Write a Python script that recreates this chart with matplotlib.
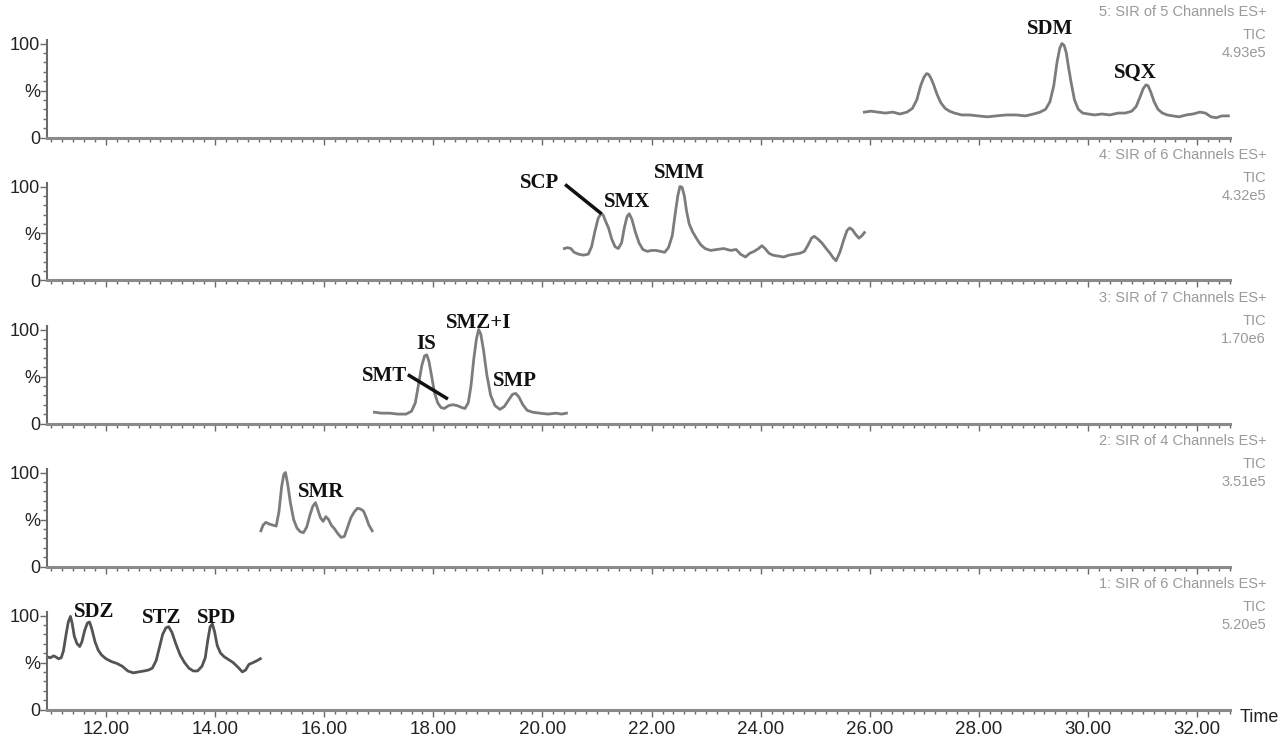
import numpy as np
import matplotlib.pyplot as plt
from matplotlib.ticker import MultipleLocator, FixedLocator, FuncFormatter

# retention time (min) and relative intensity (%) for each SIR channel group
t1 = [10.92, 10.98, 11.04, 11.08, 11.13, 11.18, 11.22, 11.27, 11.31, 11.35, 11.38, 11.42,
      11.47, 11.52, 11.56, 11.61, 11.66, 11.70, 11.74, 11.80, 11.86, 11.92, 12.00, 12.10,
      12.20, 12.30, 12.40, 12.50, 12.60, 12.70, 12.78, 12.85, 12.92, 12.98, 13.04, 13.10,
      13.15, 13.21, 13.28, 13.36, 13.44, 13.52, 13.60, 13.68, 13.76, 13.82, 13.87, 13.91,
      13.95, 13.99, 14.04, 14.10, 14.17, 14.25, 14.33, 14.42, 14.50, 14.56, 14.62, 14.70,
      14.77, 14.83]
i1 = [56, 55, 57, 56, 54, 55, 62, 80, 93, 99, 92, 78,
      70, 67, 72, 84, 92, 93, 86, 72, 63, 58, 54, 51,
      49, 46, 41, 39, 40, 41, 42, 44, 52, 66, 80, 87,
      88, 82, 70, 58, 50, 44, 41, 41, 46, 55, 75, 88,
      91, 83, 68, 60, 56, 53, 50, 45, 40, 42, 48, 50,
      52, 54]

t2 = [14.84, 14.88, 14.93, 15.00, 15.06, 15.12, 15.17, 15.22, 15.26, 15.29, 15.33, 15.38,
      15.44, 15.50, 15.56, 15.62, 15.68, 15.74, 15.79, 15.84, 15.88, 15.93, 15.98, 16.03,
      16.08, 16.13, 16.19, 16.25, 16.31, 16.37, 16.43, 16.49, 16.55, 16.61, 16.67, 16.72,
      16.77, 16.82, 16.88]
i2 = [38, 44, 47, 45, 44, 43, 58, 85, 98, 100, 88, 68,
      50, 41, 37, 36, 42, 55, 64, 68, 61, 52, 48, 53,
      50, 44, 40, 35, 31, 32, 42, 52, 58, 62, 61, 59,
      52, 44, 38]

t3 = [16.92, 17.05, 17.20, 17.35, 17.50, 17.60, 17.67, 17.73, 17.79, 17.84, 17.88, 17.92,
      17.97, 18.02, 18.08, 18.14, 18.20, 18.28, 18.36, 18.44, 18.52, 18.58, 18.64, 18.69,
      18.74, 18.79, 18.83, 18.87, 18.92, 18.98, 19.05, 19.13, 19.22, 19.30, 19.38, 19.45,
      19.51, 19.57, 19.64, 19.72, 19.82, 19.95, 20.10, 20.25, 20.35, 20.44]
i3 = [12, 11, 11, 10, 10, 13, 22, 42, 62, 72, 73, 66,
      50, 33, 22, 17, 16, 19, 20, 19, 17, 16, 22, 40,
      68, 90, 100, 95, 78, 52, 30, 19, 15, 18, 25, 31,
      32, 28, 20, 14, 12, 11, 10, 11, 10, 11]

t4 = [20.40, 20.46, 20.52, 20.58, 20.66, 20.75, 20.84, 20.90, 20.96, 21.02, 21.07, 21.11,
      21.15, 21.21, 21.27, 21.33, 21.39, 21.45, 21.50, 21.55, 21.59, 21.64, 21.70, 21.77,
      21.84, 21.92, 22.00, 22.08, 22.16, 22.24, 22.31, 22.38, 22.43, 22.48, 22.52, 22.56,
      22.60, 22.64, 22.69, 22.75, 22.82, 22.90, 22.98, 23.08, 23.20, 23.32, 23.45, 23.55,
      23.63, 23.72, 23.80, 23.88, 23.96, 24.02, 24.08, 24.15, 24.22, 24.32, 24.42, 24.52,
      24.62, 24.72, 24.80, 24.87, 24.93, 24.98, 25.05, 25.12, 25.20, 25.27, 25.33, 25.38,
      25.45, 25.52, 25.58, 25.63, 25.68, 25.74, 25.80, 25.86, 25.90]
i4 = [34, 35, 34, 30, 28, 27, 28, 36, 52, 66, 71, 70,
      64, 56, 44, 36, 34, 40, 56, 68, 71, 65, 52, 40,
      33, 31, 32, 32, 31, 30, 35, 48, 70, 90, 100, 99,
      90, 74, 60, 52, 45, 38, 34, 32, 33, 34, 32, 33,
      28, 25, 29, 31, 34, 37, 34, 29, 27, 26, 25, 27,
      28, 29, 31, 38, 45, 47, 44, 40, 34, 29, 24, 21,
      30, 43, 53, 56, 54, 49, 45, 48, 51]

t5 = [25.90, 26.02, 26.15, 26.28, 26.42, 26.55, 26.68, 26.78, 26.86, 26.93, 26.99, 27.04,
      27.08, 27.12, 27.17, 27.23, 27.30, 27.38, 27.46, 27.55, 27.68, 27.82, 27.98, 28.15,
      28.32, 28.50, 28.68, 28.85, 29.00, 29.12, 29.22, 29.30, 29.37, 29.43, 29.48, 29.52,
      29.56, 29.60, 29.64, 29.69, 29.75, 29.82, 29.90, 30.00, 30.12, 30.25, 30.40, 30.55,
      30.68, 30.80, 30.88, 30.95, 31.01, 31.06, 31.10, 31.15, 31.21, 31.28, 31.36, 31.45,
      31.55, 31.67, 31.80, 31.92, 32.05, 32.15, 32.25, 32.35, 32.45, 32.57]
i5 = [27, 28, 27, 26, 27, 25, 27, 31, 40, 55, 64, 68,
      67, 63, 56, 46, 37, 31, 28, 26, 24, 24, 23, 22,
      23, 24, 24, 23, 25, 27, 30, 38, 55, 80, 95, 100,
      98, 90, 75, 58, 40, 30, 26, 25, 24, 25, 24, 26,
      26, 28, 33, 43, 52, 56, 55, 48, 38, 30, 26, 24,
      23, 22, 24, 25, 27, 26, 22, 21, 23, 23]

times = [t5, t4, t3, t2, t1]
intens = [i5, i4, i3, i2, i1]
headers = ["5: SIR of 5 Channels ES+", "4: SIR of 6 Channels ES+", "3: SIR of 7 Channels ES+",
           "2: SIR of 4 Channels ES+", "1: SIR of 6 Channels ES+"]
scales = ["4.93e5", "4.32e5", "1.70e6", "3.51e5", "5.20e5"]
colors = ["#7c7c7c", "#7c7c7c", "#7c7c7c", "#7c7c7c", "#545454"]

# peak labels: (text, time, %)
labels = [
    [("SDM", 29.30, 115), ("SQX", 30.86, 69)],
    [("SCP", 19.95, 104), ("SMX", 21.56, 83), ("SMM", 22.51, 114)],
    [("IS", 17.87, 85), ("SMZ+I", 18.83, 107), ("SMT", 17.10, 51), ("SMP", 19.49, 45)],
    [("SMR", 15.94, 79)],
    [("SDZ", 11.78, 104), ("STZ", 13.03, 97), ("SPD", 14.02, 97)],
]
# leader lines: panel index, (t0, y0), (t1, y1)
leaders = [(1, (20.44, 101), (21.06, 72)), (2, (17.56, 51), (18.24, 27))]

W, H = 1281, 742
fig = plt.figure(figsize=(W / 100, H / 100), dpi=100)
plt.rcParams['font.family'] = ['Liberation Sans', 'DejaVu Sans']

left = 47 / W
width = (1230 - 47) / W
ypx = 0.94  # pixels per percent
axes = []
for k in range(5):
    y0 = 137.5 + 143 * k
    top = y0 - 104 * ypx
    ax = fig.add_axes([left, 1 - y0 / H, width, (y0 - top) / H])
    ax.plot(times[k], intens[k], color=colors[k], lw=2.0, solid_joinstyle='round')
    ax.set_xlim(10.92, 32.6)
    ax.set_ylim(0, 104)
    for s in ['top', 'right']:
        ax.spines[s].set_visible(False)
    ax.spines['left'].set_color('#6a6a6a')
    ax.spines['left'].set_linewidth(1.5)
    ax.spines['bottom'].set_color('#8a8a8a')
    ax.spines['bottom'].set_linewidth(2.2)
    ax.yaxis.set_major_locator(FixedLocator([0, 50, 100]))
    ax.yaxis.set_major_formatter(FuncFormatter(lambda v, p: {0: '0', 50: '%', 100: '100'}[int(v)]))
    ax.yaxis.set_minor_locator(MultipleLocator(10))
    ax.tick_params(axis='y', which='major', length=5, width=1, color='#6a6a6a', pad=0,
                   labelsize=13, labelcolor='#222222')
    ax.tick_params(axis='y', which='minor', length=3, width=1, color='#6a6a6a')
    ax.xaxis.set_major_locator(MultipleLocator(2))
    ax.xaxis.set_minor_locator(MultipleLocator(0.2))
    ax.xaxis.set_major_formatter(FuncFormatter(lambda v, p: f"{v:.2f}"))
    ax.tick_params(axis='x', which='major', length=5, width=1, color='#6a6a6a',
                   labelsize=13.5, labelcolor='#222222', pad=3)
    ax.tick_params(axis='x', which='minor', length=3, width=1, color='#6a6a6a')
    if k < 4:
        ax.tick_params(axis='x', labelbottom=False)
    for name, tx, ty in labels[k]:
        ax.text(tx, ty, name, ha='center', va='center', fontsize=15, fontweight='bold',
                family=['Liberation Serif', 'DejaVu Serif'], color='#111111', clip_on=False)
    # channel header text on the right
    fig.text(1267 / W, 1 - (y0 - 125.5) / H, headers[k], ha='right', va='center',
             fontsize=10.5, color='#9a9a9a')
    fig.text(1266 / W, 1 - (y0 - 102.5) / H, "TIC", ha='right', va='center',
             fontsize=10.5, color='#9a9a9a')
    fig.text(1266 / W, 1 - (y0 - 84.5) / H, scales[k], ha='right', va='center',
             fontsize=10.5, color='#9a9a9a')
    axes.append(ax)

for k, (xa, ya), (xb, yb) in leaders:
    axes[k].plot([xa, xb], [ya, yb], color='#111111', lw=2.5, clip_on=False)

fig.text(1240 / W, 1 - 718 / H, "Time", ha='left', va='center', fontsize=13, color='#222222')

fig.savefig("out.png", dpi=100)
